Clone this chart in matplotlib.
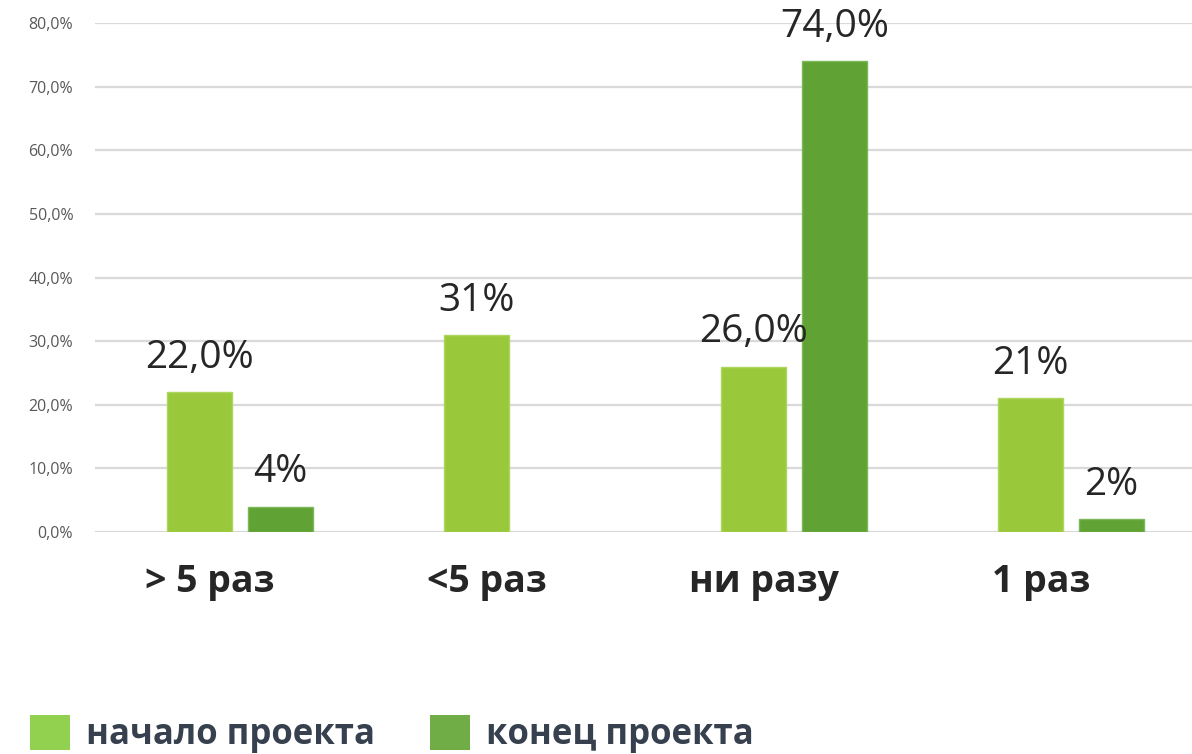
import numpy as np
import matplotlib.pyplot as plt
import matplotlib.transforms as mtransforms
from matplotlib.patches import Patch
from matplotlib.ticker import FuncFormatter

plt.rcParams['font.family'] = ['Open Sans', 'DejaVu Sans']

categories = ['> 5 раз', '<5 раз', 'ни разу', '1 раз']
start_vals = [0.22, 0.31, 0.26, 0.21]
end_vals = [0.04, None, 0.74, 0.02]
start_labels = ['22,0%', '31%', '26,0%', '21%']
end_labels = ['4%', None, '74,0%', '2%']
series_names = ['начало проекта', 'конец проекта']

light = '#99c93a'
dark = '#60a334'

fig = plt.figure(figsize=(11.92, 7.54), dpi=100)
ax = fig.add_axes([0.08, 0.2944, 0.92, 0.6751])

x = np.arange(len(categories))
w = 0.235
off = 0.146

ax.bar(x - off, start_vals, w, color=light, edgecolor='#aed65e', linewidth=1, zorder=3)
for xi, v in zip(x, end_vals):
    if v is not None:
        ax.bar(xi + off, v, w, color=dark, edgecolor='#7cb85a', linewidth=1, zorder=3)

for xi, v, lab in zip(x, start_vals, start_labels):
    ax.text(xi - off, v + 0.024, lab, ha='center', va='bottom', fontsize=28, color='#262626')
for xi, v, lab in zip(x, end_vals, end_labels):
    if v is not None:
        ax.text(xi + off, v + 0.024, lab, ha='center', va='bottom', fontsize=28, color='#262626')

ax.set_ylim(0, 0.8)
ax.set_xlim(-0.523, 3.437)
ax.set_yticks(np.arange(0, 0.81, 0.1))
ax.yaxis.set_major_formatter(FuncFormatter(lambda v, p: f'{v*100:.1f}%'.replace('.', ',')))
ax.tick_params(axis='y', length=0, pad=16, labelsize=11.5, labelcolor='#595959')
ax.grid(axis='y', color='#d9d9d9', linewidth=1.6, zorder=0)
for s in ax.spines.values():
    s.set_visible(False)

ax.set_xticks(x)
ax.set_xticklabels(categories, fontsize=27, fontweight='bold', color='#262626')
ax.tick_params(axis='x', length=0, pad=22)
shift = mtransforms.ScaledTranslation(-30 / 100, 0, fig.dpi_scale_trans)
for lbl in ax.get_xticklabels():
    lbl.set_transform(lbl.get_transform() + shift)

handles = [Patch(facecolor='#92d050'), Patch(facecolor='#70ad47')]
leg = fig.legend(handles, series_names, loc='center left', bbox_to_anchor=(30 / 1192, 0.026),
                 ncol=2, frameon=False, borderpad=0, borderaxespad=0,
                 handlelength=1.15, handleheight=1.15, handletextpad=0.45, columnspacing=1.6,
                 prop={'size': 25, 'weight': 'bold'})
for t in leg.get_texts():
    t.set_color('#36404f')

fig.savefig('out.png', dpi=100)
